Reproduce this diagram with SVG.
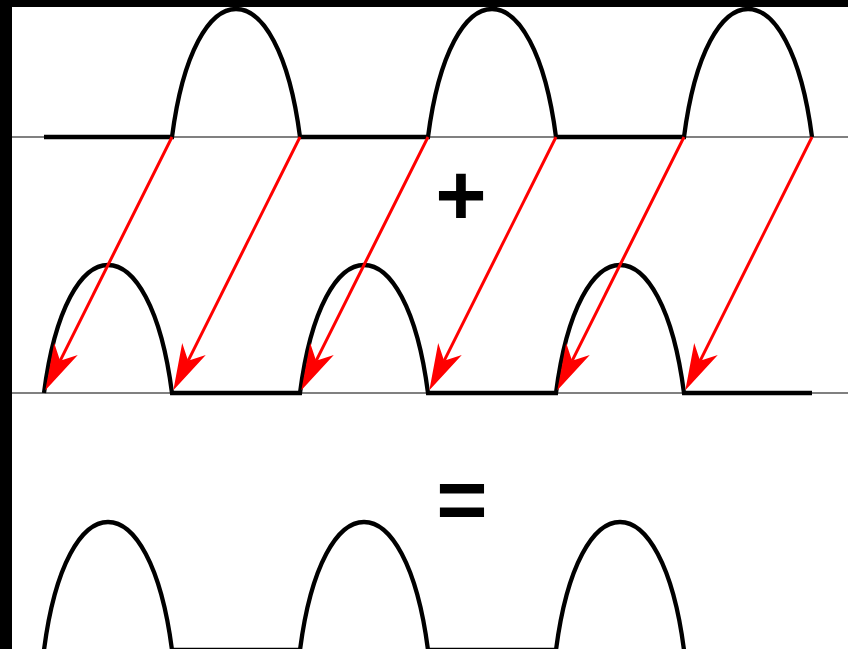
<svg xmlns="http://www.w3.org/2000/svg" width="848" height="649" viewBox="0 0 848 649">
  <style>
    .axis { stroke: #808080; stroke-width: 1.8; fill: none; }
    .wave { stroke: #000000; stroke-width: 4.3; fill: none; stroke-linejoin: miter; }
    .arrow { stroke: #ff0000; stroke-width: 3; fill: none; marker-end: url(#head); }
    .sym { font-family: "Liberation Sans", Arial, sans-serif; font-weight: bold; font-size: 88px; fill: #000000; text-anchor: middle; }
  </style>
  <defs>
    <marker id="head" orient="auto" markerUnits="strokeWidth" markerWidth="20" markerHeight="20" refX="0" refY="0" overflow="visible">
      <path d="M11,0 L-4.4,-4.4 L0,0 L-4.4,4.4 Z" fill="#ff0000" stroke="none"/>
    </marker>
  </defs>
  <rect x="0" y="0" width="848" height="649" fill="#000000"/>
  <rect x="12" y="7" width="836" height="642" fill="#ffffff"/>
  <g id="axes">
    <line class="axis" x1="12" y1="137" x2="848" y2="137"/>
    <line class="axis" x1="12" y1="393" x2="848" y2="393"/>
  </g>
  <g id="wave-top">
    <path class="wave" d="M44,137 H172 C194,-33.7 278,-33.7 300,137 H428 C450,-33.7 534,-33.7 556,137 H684 C706,-33.7 790,-33.7 812,137"/>
  </g>
  <g id="wave-middle">
    <path class="wave" d="M44,393 C66,222.3 150,222.3 172,393 H300 C322,222.3 406,222.3 428,393 H556 C578,222.3 662,222.3 684,393 H812"/>
  </g>
  <g id="wave-bottom">
    <path class="wave" d="M44,650 C66,479.3 150,479.3 172,650 H300 C322,479.3 406,479.3 428,650 H556 C578,479.3 662,479.3 684,650"/>
  </g>
  <g id="plus">
    <text class="sym" x="461" y="225">+</text>
  </g>
  <g id="equals">
    <text class="sym" x="462" y="529">=</text>
  </g>
  <g id="connectors">
    <line class="arrow" x1="172" y1="137" x2="60.1" y2="360.8"/>
    <line class="arrow" x1="300" y1="137" x2="188.1" y2="360.8"/>
    <line class="arrow" x1="428" y1="137" x2="316.1" y2="360.8"/>
    <line class="arrow" x1="556" y1="137" x2="444.1" y2="360.8"/>
    <line class="arrow" x1="684" y1="137" x2="572.1" y2="360.8"/>
    <line class="arrow" x1="812" y1="137" x2="700.1" y2="360.8"/>
  </g>
</svg>
